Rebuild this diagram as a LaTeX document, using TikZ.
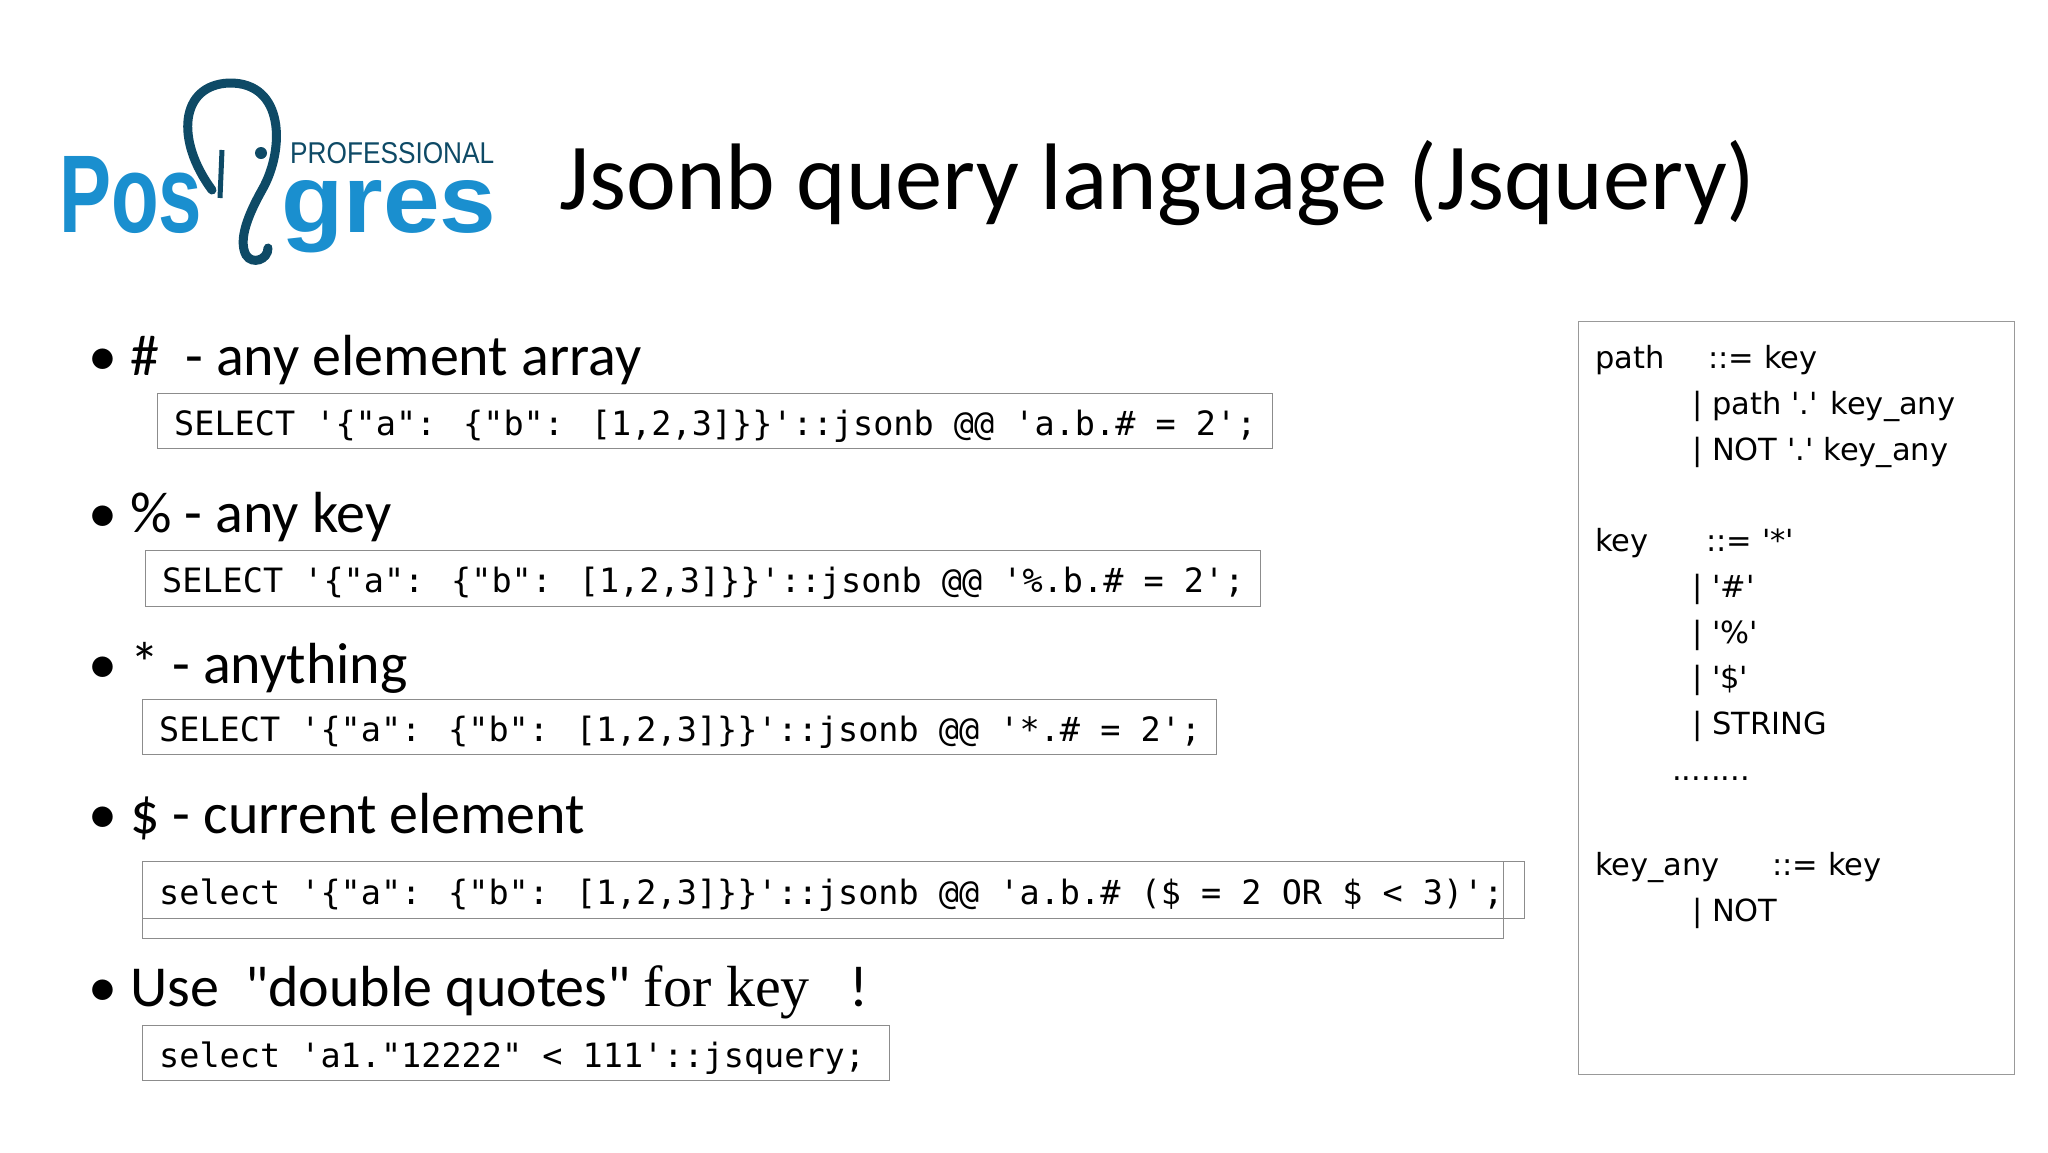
\documentclass[tikz,border=0pt]{standalone}
\usepackage{fontspec}
\usepackage{graphicx}
\setmainfont{Carlito}
\newfontfamily\plainfont{Carlito}
\newfontfamily\codefont{DejaVu Sans Mono}
\newfontfamily\grfont{DejaVu Sans}
\newfontfamily\logofont{Liberation Sans}
\newfontfamily\serifkey{Liberation Serif}
\definecolor{pgblue}{HTML}{1A8FCF}
\definecolor{pgdark}{HTML}{0E4A66}
\tikzset{
  txt/.style={anchor=base west,inner sep=0pt},
  bullet/.style={txt,font=\fontsize{58}{60}\selectfont},
  codebox/.style={draw=black!45,line width=1.2pt},
  code/.style={txt,font=\codefont\fontsize{33.5}{35}\selectfont},
  gram/.style={txt,font=\grfont\fontsize{30.5}{32}\selectfont}
}
\begin{document}
\begin{tikzpicture}[x=1pt,y=-1pt]
\fill[white] (0,0) rectangle (2048,1152);
\useasboundingbox (0,0) rectangle (2048,1152);
% logo
\node[anchor=base west,inner sep=0pt,text=pgblue] (pos) at (59,232) {\logofont\bfseries\resizebox{143pt}{76pt}{Pos}};
\node[anchor=base west,inner sep=0pt,text=pgblue] (gres) at (281,232) {\logofont\bfseries\resizebox{215pt}{52pt}{gres}};
\node[anchor=base west,inner sep=0pt,text=pgdark] (prof) at (290,163) {\logofont\resizebox{204pt}{21pt}{PROFESSIONAL}};
\draw[pgdark,line width=9pt,line cap=round] (212,190) .. controls (175,140) and (180,85) .. (229,83)
  .. controls (285,82) and (285,150) .. (262,190) .. controls (248,215) and (238,240) .. (246,255)
  .. controls (252,265) and (268,260) .. (268,248);
\draw[pgdark,line width=5pt] (222,150) -- (220,198);
\fill[pgdark] (261,153) circle (6);
% title
\node[txt,font=\fontsize{94.5}{96}\selectfont] (title) at (559,209) {Jsonb query language (Jsquery)};
% bullets
\node[bullet] (b1) at (88,375) {\textbullet\ \#\ \ - any element array};
\node[codebox,minimum width=1115pt,minimum height=55pt,anchor=north west] (c1) at (157,393) {};
\node[code] at (174,435) {SELECT '\{"a": \{"b": [1,2,3]\}\}'::jsonb @@ 'a.b.\# = 2';};
\node[bullet] (b2) at (88,532) {\textbullet\ \% - any key};
\node[codebox,minimum width=1115pt,minimum height=56pt,anchor=north west] (c2) at (145,550) {};
\node[code] at (162,592) {SELECT '\{"a": \{"b": [1,2,3]\}\}'::jsonb @@ '\%.b.\# = 2';};
\node[bullet] (b3) at (88,683) {\textbullet\ * - anything};
\node[codebox,minimum width=1074pt,minimum height=55pt,anchor=north west] (c3) at (142,699) {};
\node[code] at (159,741) {SELECT '\{"a": \{"b": [1,2,3]\}\}'::jsonb @@ '*.\# = 2';};
\node[bullet] (b4) at (88,833) {\textbullet\ \$ - current element};
\node[codebox,minimum width=1382pt,minimum height=57pt,anchor=north west] (c4a) at (142,861) {};
\node[codebox,minimum width=1361pt,minimum height=77pt,anchor=north west] (c4b) at (142,861) {};
\node[code] at (159,904) {select '\{"a": \{"b": [1,2,3]\}\}'::jsonb @@ 'a.b.\# (\$ = 2 OR \$ < 3)';};
\node[bullet] (b5) at (88,1006) {\textbullet\ Use\ \ {\plainfont"double quotes"}\ {\serifkey for key}\ \ \ !};
\node[codebox,minimum width=747pt,minimum height=55pt,anchor=north west] (c5) at (142,1025) {};
\node[code] at (159,1067) {select 'a1."12222" < 111'::jsquery;};
% grammar box
\node[draw=black!40,line width=1.2pt,minimum width=436pt,minimum height=753pt,anchor=north west] (gbox) at (1578,321) {};
\node[gram] at (1595,368) {path};
\node[gram] at (1708,368) {::= key};
\node[gram] at (1692,414) {| path '.' key\_any};
\node[gram] at (1692,460) {| NOT '.' key\_any};
\node[gram] at (1595,551) {key};
\node[gram] at (1706,551) {::= '*'};
\node[gram] at (1692,597) {| '\#'};
\node[gram] at (1692,643) {| '\%'};
\node[gram] at (1692,688) {| '\$'};
\node[gram] at (1692,734) {| STRING};
\node[gram] at (1672,780) {........};
\node[gram] at (1595,875) {key\_any};
\node[gram] at (1772,875) {::= key};
\node[gram] at (1692,921) {| NOT};
\end{tikzpicture}
\end{document}
